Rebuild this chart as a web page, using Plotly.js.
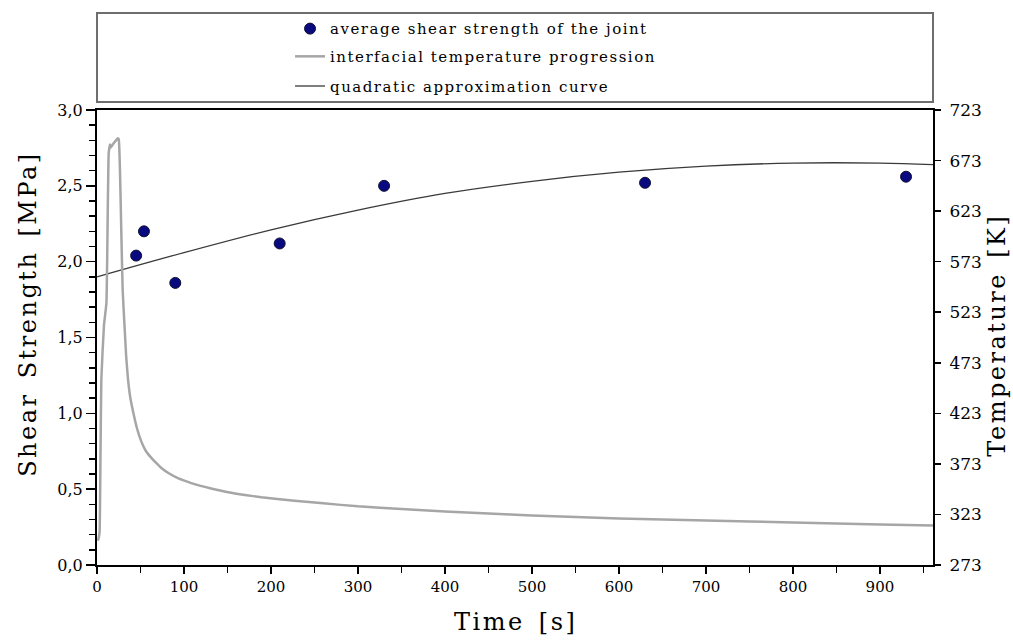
<!DOCTYPE html>
<html>
<head>
<meta charset="utf-8">
<script src="https://cdn.plot.ly/plotly-3.0.1.min.js"></script>
<style>
  html, body { margin: 0; padding: 0; background: #fff; }
  #chart { width: 1013px; height: 642px; }
  .legendtext, .legendtext tspan { letter-spacing: 1.5px !important; }
  text.annotation-text { letter-spacing: 2.5px; word-spacing: 4px; }
</style>
</head>
<body>
<div id="chart"></div>
<script>
// Interfacial temperature progression (time [s], temperature [K])
const timeS = [1, 2, 3, 4, 5, 8, 10.8, 13.5, 15, 16, 17.5, 20, 24, 25, 26.5, 28, 29.5, 31.8, 33.5, 35.6, 38, 41.4, 46, 51, 56, 62.5, 68, 74, 83, 93, 102, 112, 130, 151, 170, 189, 210, 227, 260, 300, 350, 400, 450, 500, 600, 700, 800, 900, 961];
const tempK = [297, 300, 306, 380, 457, 510, 532, 681, 689, 686, 688, 691, 695, 694, 660, 600, 545, 507, 480, 457, 440, 425, 408, 395, 386, 379, 374, 369, 363.5, 359, 356, 353, 349, 345, 342.3, 340, 338, 336.5, 334, 331, 328.5, 326, 324, 322, 319, 317, 315, 313, 312];

// Average shear strength of the joint (time [s], MPa)
const pointT = [45, 54, 90, 210, 330, 630, 930];
const pointS = [2.04, 2.20, 1.86, 2.12, 2.50, 2.52, 2.56];

// Quadratic approximation curve (time [s], MPa)
const fitT = [0, 100, 200, 300, 400, 500, 600, 700, 800, 900, 961];
const fitS = [1.90, 2.06, 2.21, 2.34, 2.45, 2.53, 2.59, 2.63, 2.65, 2.65, 2.64];

// Tick labels
const xTicks = [0, 100, 200, 300, 400, 500, 600, 700, 800, 900];
const yTicks = [0, 0.5, 1, 1.5, 2, 2.5, 3];
const y2Ticks = [273, 323, 373, 423, 473, 523, 573, 623, 673, 723];

// Titles and legend names
const xTitle = 'Time [s]';
const yTitle = 'Shear Strength [MPa]';
const y2Title = 'Temperature [K]';
const names = ['average shear strength of the joint', 'interfacial temperature progression', 'quadratic approximation curve'];

const serif = 'DejaVu Serif, serif';

const data = [
  {
    x: timeS, y: tempK, yaxis: 'y2', type: 'scatter', mode: 'lines',
    name: names[1],
    line: { color: '#a6a6a6', width: 2.5, shape: 'spline', smoothing: 0.4 },
    legend: 'legend2'
  },
  {
    x: fitT, y: fitS, type: 'scatter', mode: 'lines',
    name: names[2],
    line: { color: '#3a3a3a', width: 1.3, shape: 'spline' },
    legend: 'legend3'
  },
  {
    x: pointT, y: pointS, type: 'scatter', mode: 'markers',
    name: names[0],
    marker: { color: '#0a0a80', size: 11, line: { color: '#111133', width: 1 } },
    legend: 'legend'
  }
];

const legendBase = (yy) => ({
  x: 0.2309, xanchor: 'left', y: yy, yanchor: 'middle',
  bgcolor: 'rgba(0,0,0,0)', borderwidth: 0,
  font: { family: serif, size: 15, color: '#000' }
});

const titleFont = { family: serif, size: 24, color: '#000' };

const layout = {
  width: 1013, height: 642,
  margin: { l: 97, r: 80, t: 105, b: 77 },
  paper_bgcolor: '#fff', plot_bgcolor: '#fff',
  separators: ', ',
  showlegend: true,
  font: { family: serif, color: '#000' },
  xaxis: {
    range: [0, 961], showgrid: false, zeroline: false,
    showline: true, linecolor: '#000', linewidth: 2, mirror: true,
    tickvals: xTicks, ticks: 'outside', ticklen: 7, tickwidth: 1.5, tickcolor: '#000',
    minor: { dtick: 50, tick0: 0, ticks: 'outside', ticklen: 6, tickwidth: 1.5, tickcolor: '#000', showgrid: false },
    tickfont: { family: serif, size: 15, color: '#000' },
    automargin: false
  },
  yaxis: {
    range: [0, 3], showgrid: false, zeroline: false,
    showline: true, linecolor: '#000', linewidth: 2,
    tickvals: yTicks, tickformat: '.1f', ticks: 'outside', ticklen: 9, tickwidth: 1.5, tickcolor: '#000',
    minor: { dtick: 0.1, tick0: 0, ticks: 'outside', ticklen: 6, tickwidth: 1.5, tickcolor: '#000', showgrid: false },
    tickfont: { family: serif, size: 16, color: '#000' },
    automargin: false
  },
  yaxis2: {
    range: [273, 723], overlaying: 'y', side: 'right', showgrid: false, zeroline: false,
    showline: true, linecolor: '#000', linewidth: 2,
    tickvals: y2Ticks, ticks: 'outside', ticklen: 6, tickwidth: 1.5, tickcolor: '#000',
    ticklabelstandoff: 5,
    tickfont: { family: serif, size: 17, color: '#000' },
    automargin: false
  },
  legend: legendBase(1.1783),
  legend2: legendBase(1.1174),
  legend3: legendBase(1.0522),
  annotations: [
    { text: xTitle, xref: 'paper', yref: 'paper', x: 0.5, y: 0, yshift: -57,
      xanchor: 'center', yanchor: 'middle', showarrow: false, font: titleFont },
    { text: yTitle, xref: 'paper', yref: 'paper', x: 0, xshift: -69, y: 0.552,
      xanchor: 'center', yanchor: 'middle', textangle: -90, showarrow: false, font: titleFont },
    { text: y2Title, xref: 'paper', yref: 'paper', x: 1, xshift: 64, y: 0.504,
      xanchor: 'center', yanchor: 'middle', textangle: -90, showarrow: false, font: titleFont }
  ],
  shapes: [
    { type: 'rect', xref: 'paper', yref: 'paper', x0: 0, x1: 1, y0: 1.0174, y1: 1.2130,
      line: { color: '#6e6e6e', width: 2 }, fillcolor: 'rgba(0,0,0,0)', layer: 'below' }
  ]
};

function spaceLegendText() {
  const svg = document.querySelector('#chart');
  svg.querySelectorAll('svg text').forEach(t => {
    if (names.includes(t.textContent.trim())) {
      t.setAttribute('letter-spacing', '1.5');
      t.style.setProperty('letter-spacing', '1.5px', 'important');
      // let the wider text show: drop the legend clip paths above it
      let el = t.parentNode;
      while (el && el.tagName && el.tagName.toLowerCase() !== 'svg') {
        if (el.hasAttribute && el.hasAttribute('clip-path')) el.removeAttribute('clip-path');
        el = el.parentNode;
      }
    }
  });
}

Plotly.newPlot('chart', data, layout, { staticPlot: true, displayModeBar: false }).then(() => {
  spaceLegendText();
  requestAnimationFrame(spaceLegendText);
  setTimeout(spaceLegendText, 50);
});
</script>
</body>
</html>
